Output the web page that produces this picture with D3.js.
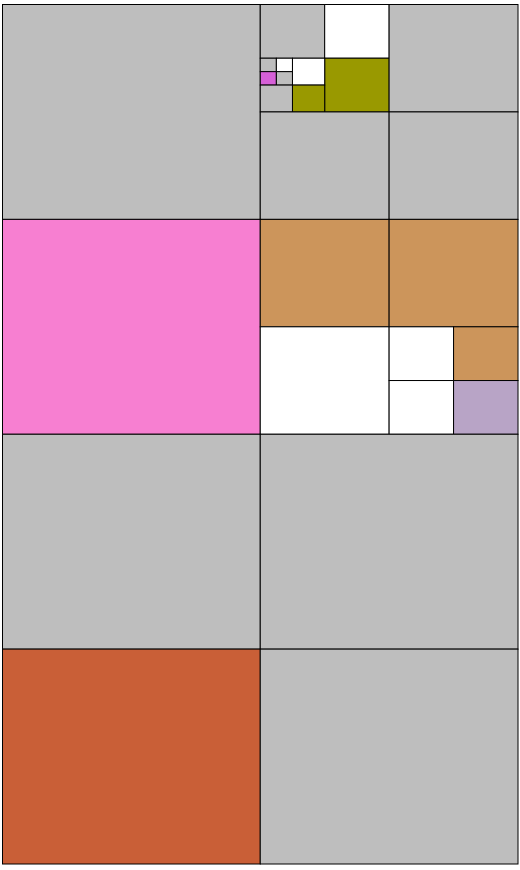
<!DOCTYPE html>
<html>
<head>
<meta charset="utf-8">
<script src="https://cdn.jsdelivr.net/npm/d3@7"></script>
<style>
html,body{margin:0;padding:0;background:#fff;}
svg{display:block;}
</style>
</head>
<body>
<svg id="chart" width="520" height="870"></svg>
<script>
// Top-level grid: rows and columns
const gridRows = [0, 1, 2, 3];
const gridCols = [0, 1];
// Each leaf: "row,col" followed by quadrant path (0=TL,1=TR,2=BL,3=BR)
const leafPaths = [
  "0,0",
  "0,1/0/0", "0,1/0/1", "0,1/0/3",
  "0,1/0/2/0/0", "0,1/0/2/0/1", "0,1/0/2/0/2", "0,1/0/2/0/3",
  "0,1/0/2/1", "0,1/0/2/2", "0,1/0/2/3",
  "0,1/1", "0,1/2", "0,1/3",
  "1,0",
  "1,1/0", "1,1/1", "1,1/2",
  "1,1/3/0", "1,1/3/1", "1,1/3/2", "1,1/3/3",
  "2,0", "2,1",
  "3,0", "3,1"
];
const leafColors = [
  "#bebebe",
  "#bebebe", "#ffffff", "#999900",
  "#bebebe", "#ffffff", "#d660d8", "#bebebe",
  "#ffffff", "#bebebe", "#999900",
  "#bebebe", "#bebebe", "#bebebe",
  "#f77fd1",
  "#cc955b", "#cc955b", "#ffffff",
  "#ffffff", "#cc955b", "#ffffff", "#b8a4c6",
  "#bebebe", "#bebebe",
  "#c95f37", "#bebebe"
];

const svg = d3.select("#chart");
const x = d3.scaleBand().domain(gridCols).range([2.5, 518]).padding(0);
const y = d3.scaleBand().domain(gridRows).range([4.5, 864]).padding(0);

function rectFor(path) {
  const parts = path.split("/");
  const [r, c] = parts[0].split(",").map(Number);
  let x0 = x(c), y0 = y(r), w = x.bandwidth(), h = y.bandwidth();
  for (let i = 1; i < parts.length; i++) {
    const q = +parts[i];
    const sx = d3.scaleLinear().domain([0, 2]).range([x0, x0 + w]);
    const sy = d3.scaleLinear().domain([0, 2]).range([y0, y0 + h]);
    const nx = sx(q % 2), ny = sy(Math.floor(q / 2));
    w = sx(1) - sx(0); h = sy(1) - sy(0);
    x0 = nx; y0 = ny;
  }
  return {x: x0, y: y0, w, h};
}

const leaves = leafPaths.map((p, i) => Object.assign(rectFor(p), {color: leafColors[i]}));

svg.selectAll("rect.cell")
  .data(leaves)
  .join("rect")
  .attr("class", "cell")
  .attr("x", d => d.x)
  .attr("y", d => d.y)
  .attr("width", d => d.w)
  .attr("height", d => d.h)
  .attr("fill", d => d.color)
  .attr("stroke", "#000")
  .attr("stroke-width", 1);
</script>
</body>
</html>
